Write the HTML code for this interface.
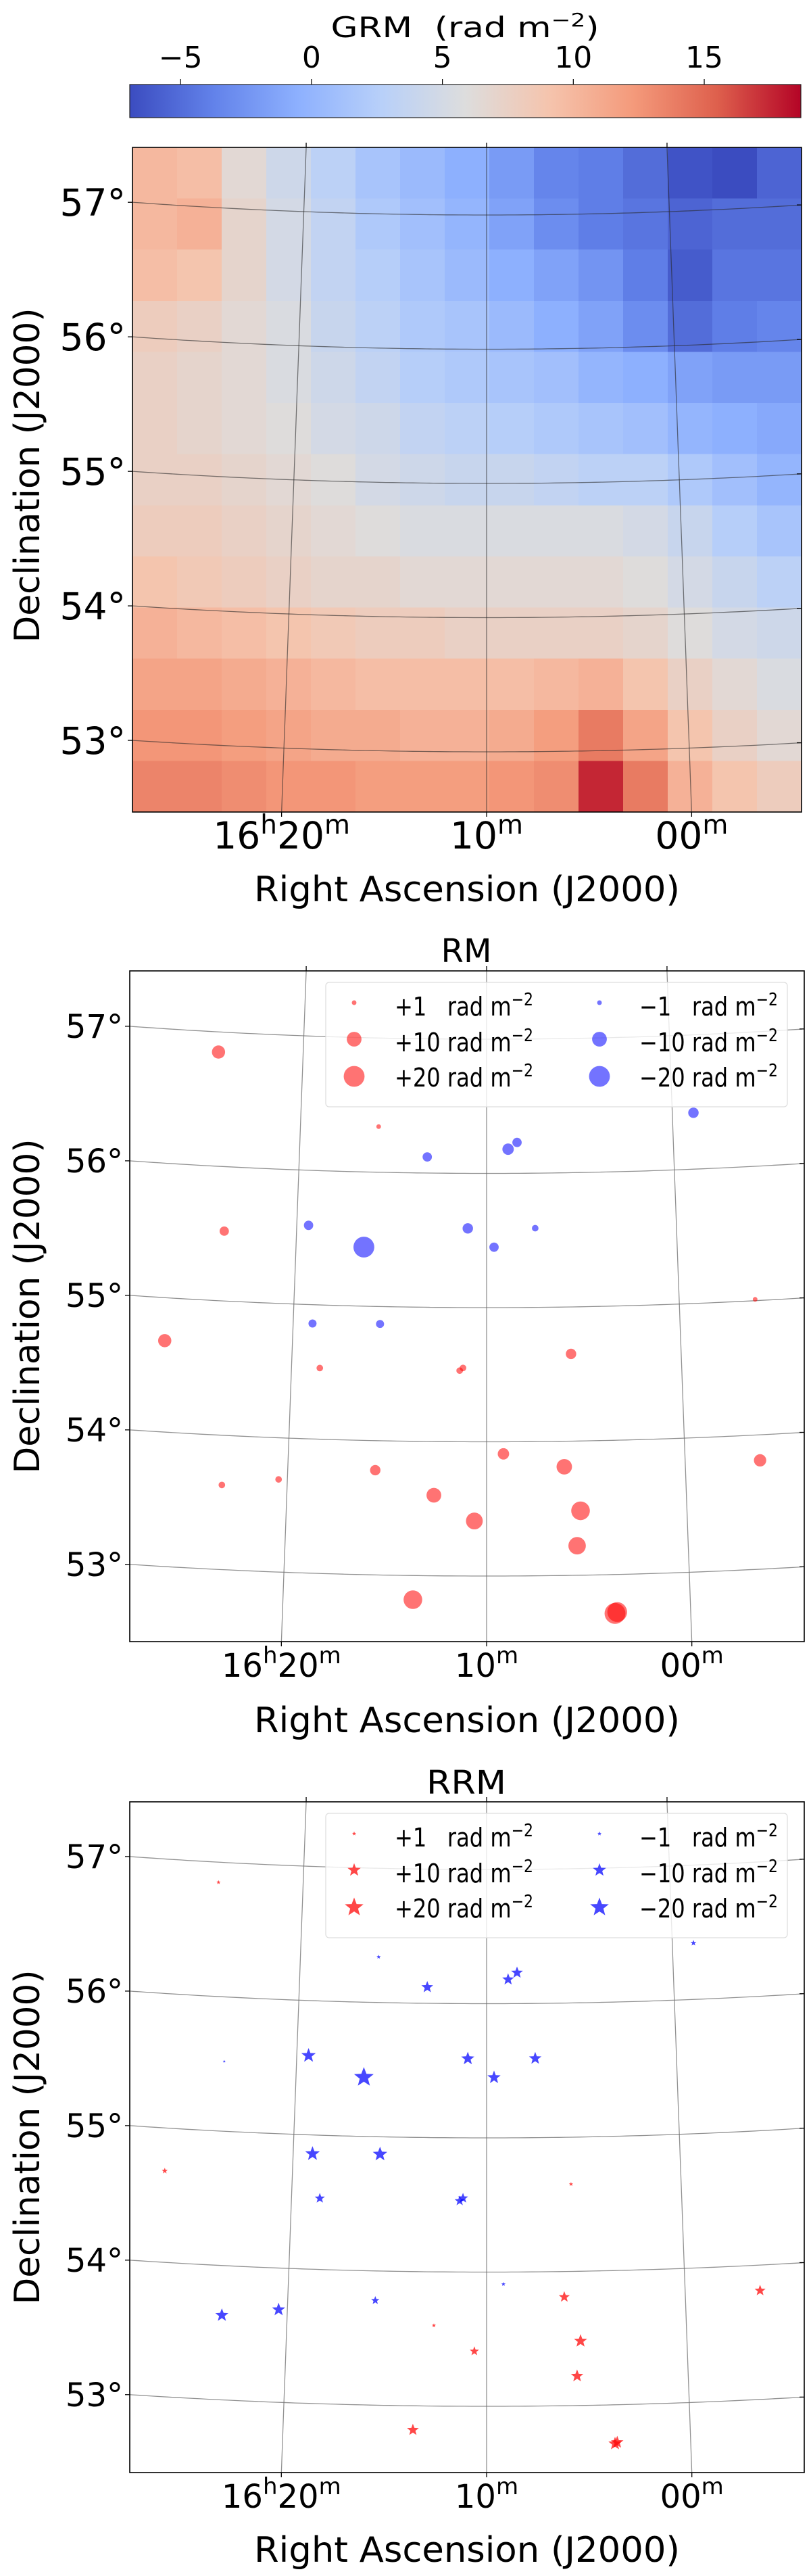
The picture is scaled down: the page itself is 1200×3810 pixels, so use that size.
<!DOCTYPE html>
<html><head><meta charset="utf-8"><title>GRM / RM / RRM maps</title>
<style>html,body{margin:0;padding:0;background:#fff}svg{display:block}text{font-family:"DejaVu Sans","Liberation Sans",sans-serif;fill:#000}</style>
</head><body>
<svg id="fig" xmlns="http://www.w3.org/2000/svg" width="1200" height="3810" viewBox="0 0 1200 3810"></svg>
<script>
// ---------- data ----------
const cbTicks = [-5, 0, 5, 10, 15];
const vmin = -6.94, vmax = 18.69;
// GRM grid (rows top->bottom, cols left->right), rad m^-2
const grmRows = [
[10,9.5,6.5,4.5,3,1.5,0.5,-0.5,-2,-3.5,-4,-5,-6.5,-7,-5.5],
[10,10.5,7,5,3.5,2,1,0,-1.5,-3,-4,-4.5,-5.5,-5,-5],
[9.5,9,7,5,3.5,2.5,1.5,0.5,-0.5,-1.5,-2.5,-4,-6,-4.5,-4.5],
[8,7.5,6.5,5.5,4,3,2,1.5,0.5,-0.5,-1.5,-3,-5,-4,-3.5],
[7.5,7,6.5,5.5,4.5,3.5,2.5,2,1.5,1,0,-0.5,-1.5,-2,-2],
[7.5,7,6.5,6,5,4.5,3.5,3,2.5,2,1.5,1,0,-0.5,-1],
[7.5,7.5,7,6.5,6,5,4.5,4,4,3.5,3,3,2,1,0],
[8,8,7.5,7,6.5,6,5.5,5.5,5.5,5.5,5.5,5,4,2.5,1.5],
[9,8.5,8,7.5,7,7,6.5,6.5,6.5,6.5,6.5,6,5,4,3],
[10.5,10,9.5,9,8.5,8,8,7.5,7.5,7.5,7.5,7,6,5,4.5],
[11.5,11.5,11,10.5,10,9.5,9.5,9.5,9.5,10,10.5,9,7.5,6.5,5.5],
[12.5,12.5,12,11.5,11,11,10.5,10.5,11,12,14,11.5,9,7.5,6.5],
[13.5,13.5,13,12.5,12.5,12,12,12,12.5,13,17.5,14,10.5,9,8]
];
// sources: RA (minutes after 16h00m), Dec (deg)
const srcRA  = [24.61,15.80,-1.14,13.17,8.85,8.37,23.80,19.38,16.44,10.99,9.61,7.44,-3.94,26.57,19.00,15.51,18.55,11.38,11.21,5.66,23.27,20.44,15.60,9.15,6.09,-3.77,12.64,10.61,5.31,5.51,13.62,3.71,3.60];
const srcDec = [56.85,56.34,56.42,56.12,56.18,56.23,55.52,55.59,55.44,55.59,55.45,55.59,55.01,54.68,54.86,54.87,54.53,54.53,54.55,54.65,53.63,53.69,53.78,53.91,53.81,53.81,53.60,53.41,53.48,53.22,52.82,52.71,52.72];
const rmVals  = [8,1,-5,-4,-6,-4,4,-4,-20,-5,-4,-2,1,8,-3,-3,2,2,2,5,2,2,5,6,11,7,10,13,16,14,16,20,18];
const rrmVals = [1,-1,-2,-8,-8,-8,-0.5,-12,-22,-10,-10,-9,0,2,-12,-12,-6,-6,-6,1,-10,-10,-4,-1,7,7,1,5,10,9,8,10,9];
const legendVals = [1,10,20];
const decTicks = [53,54,55,56,57];
const raTicks = [20,10,0];
const raTickTxt = [["16","h","20","m"],["10","m"],["00","m"]];

// ---------- helpers ----------
const NS='http://www.w3.org/2000/svg';
const svg=document.getElementById('fig');
function mk(tag,attrs,parent){const e=document.createElementNS(NS,tag);for(const k in attrs)e.setAttribute(k,attrs[k]);(parent||svg).appendChild(e);return e;}
const R0=8100,S=198.5,K=0.003703,XC=720;
function proj(ram,dec,P){const r=R0+(53-dec)*S,u=(ram-10)*K;return [XC-r*Math.sin(u),P.yc+(r*Math.cos(u)-R0)];}
function decYatX(dec,x,P){const r=R0+(53-dec)*S,dx=XC-x;return P.yc+Math.sqrt(r*r-dx*dx)-R0;}
const stops=[[0,[59,76,192]],[0.125,[98,130,234]],[0.25,[141,176,254]],[0.375,[184,208,249]],[0.5,[221,221,221]],[0.625,[245,196,173]],[0.75,[244,154,123]],[0.875,[222,96,77]],[1,[180,4,38]]];
function cmap(v){let t=(v-vmin)/(vmax-vmin);t=Math.max(0,Math.min(1,t));for(let i=1;i<stops.length;i++){if(t<=stops[i][0]){const a=stops[i-1],b=stops[i],f=(t-a[0])/(b[0]-a[0]);return 'rgb('+a[1].map((c,j)=>Math.round(c+(b[1][j]-c)*f)).join(',')+')';}}return 'rgb(180,4,38)';}
function msize(v){return 6.9*Math.sqrt(Math.abs(v));}
function starPts(cx,cy,R){const p=[];for(let i=0;i<10;i++){const a=-Math.PI/2+i*Math.PI/5,rr=i%2?R*0.42:R;p.push((cx+rr*Math.cos(a)).toFixed(1)+','+(cy+rr*Math.sin(a)).toFixed(1));}return p.join(' ');}

const panels=[
 {id:'grm',x0:196,x1:1186,y0:218,y1:1201,yc:1112,tick:55,raBase:1255,xlBase:1333,ylC:703},
 {id:'rm',x0:192,x1:1190,y0:1436,y1:2428,yc:2331,tick:48,raBase:2480,xlBase:2562,ylC:1932,title:'RM',tBase:1423,tW:75},
 {id:'rrm',x0:192,x1:1190,y0:2665,y1:3657,yc:3559,tick:48,raBase:3709,xlBase:3789,ylC:3161,title:'RRM',tBase:2653,tW:118}
];

// ---------- colorbar ----------
const cb=mk('g',{});


const cbx0=192,cbx1=1185,cby0=125,cby1=174;
const defs=mk('defs',{});
const lg=mk('linearGradient',{id:'cbgrad',x1:'0',x2:'1',y1:'0',y2:'0'},defs);
stops.forEach(s=>mk('stop',{offset:s[0],'stop-color':'rgb('+s[1].join(',')+')'},lg));
mk('rect',{x:cbx0,y:cby0,width:cbx1-cbx0,height:cby1-cby0,fill:'url(#cbgrad)',stroke:'#222','stroke-width':1.2},cb);
function cbX(v){return cbx0+(v-vmin)/(vmax-vmin)*(cbx1-cbx0);}
cbTicks.forEach(v=>{
  mk('line',{x1:cbX(v),x2:cbX(v),y1:cby0-8,y2:cby0,stroke:'#000','stroke-width':1.2},cb);
  const t=mk('text',{x:cbX(v),y:100,'font-size':44,'text-anchor':'middle'},cb);
  
  
  t.textContent=(v<0?'\u2212':'')+Math.abs(v);
});
const cbl=mk('text',{x:688,y:55,'font-size':42,'text-anchor':'middle',textLength:397,lengthAdjust:'spacingAndGlyphs'},cb);


cbl.innerHTML='GRM\u00a0\u00a0(rad m<tspan baseline-shift="super" font-size="28">\u22122</tspan>)';

// ---------- panels ----------
panels.forEach((P,pi)=>{
  const g=mk('g',{});
  
  
  mk('clipPath',{id:'clip'+pi},defs).appendChild(Object.assign(document.createElementNS(NS,'rect'),{}));
  const cr=defs.lastChild.firstChild;cr.setAttribute('x',P.x0);cr.setAttribute('y',P.y0);cr.setAttribute('width',P.x1-P.x0);cr.setAttribute('height',P.y1-P.y0);
  const inner=mk('g',{'clip-path':'url(#clip'+pi+')'},g);
  if(P.id==='grm'){
    const hm=mk('g',{'shape-rendering':'crispEdges'},inner);
    
    
    const nr=grmRows.length,nc=grmRows[0].length,cw=(P.x1-P.x0)/nc,ch=(P.y1-P.y0)/nr;
    grmRows.forEach((row,ri)=>row.forEach((v,ci)=>{
      const c=mk('rect',{x:P.x0+ci*cw,y:P.y0+ri*ch,width:cw+0.6,height:ch+0.6,fill:cmap(v)},hm);
      
      
    }));
  }
  const gridCol=P.id==='grm'?'rgba(40,40,40,0.6)':'rgba(110,110,110,0.75)';
  const grid=mk('g',{fill:'none',stroke:gridCol,'stroke-width':1.3},inner);
  
  
  for(let d=52;d<=58;d++){let pts=[];for(let x=P.x0-5;x<=P.x1+5;x+=10)pts.push(x+','+decYatX(d,x,P).toFixed(1));mk('polyline',{points:pts.join(' ')},grid);}
  for(let ra=-10;ra<=30;ra+=10){let pts=[];for(let d=51.5;d<=58.5;d+=0.25){const p=proj(ra,d,P);pts.push(p[0].toFixed(1)+','+p[1].toFixed(1));}mk('polyline',{points:pts.join(' ')},grid);}
  // markers
  if(P.id!=='grm'){
    const vals=P.id==='rm'?rmVals:rrmVals;
    const mg=mk('g',{},inner);
    
    
    srcRA.forEach((ra,i)=>{
      const v=vals[i];if(v===0)return;
      const p=proj(ra,srcDec[i],P),d=msize(v),col=v>0?'#ff0000':'#0000ff';
      let m;
      if(P.id==='rm') m=mk('circle',{cx:p[0],cy:p[1],r:d/2,fill:col,'fill-opacity':0.55},mg);
      else m=mk('polygon',{points:starPts(p[0],p[1],d*0.47),fill:col,'fill-opacity':0.72},mg);
      
      
    });
    // legend
    const L=mk('g',{},g);
    
    
    const ly=P.y0+17;
    mk('rect',{x:482,y:ly,width:683,height:184,rx:5,fill:'rgba(255,255,255,0.8)',stroke:'#ddd','stroke-width':1.2},L);
    const rowY=[30,84,139],baseY=[49,102,154];
    legendVals.forEach((lv,k)=>{
      [[lv,524,584],[-lv,887,946]].forEach(([v,mx,tx])=>{
        const d=msize(v),col=v>0?'#ff0000':'#0000ff';let m;
        if(P.id==='rm') m=mk('circle',{cx:mx,cy:ly+rowY[k],r:d/2,fill:col,'fill-opacity':0.55},L);
        else m=mk('polygon',{points:starPts(mx,ly+rowY[k],d*0.47),fill:col,'fill-opacity':0.72},L);
        
        
        const t=mk('text',{x:tx,y:ly+baseY[k],'font-size':38,textLength:205,lengthAdjust:'spacingAndGlyphs'},L);
        
        
        const s=(v>0?'+':'\u2212')+Math.abs(v);
        t.innerHTML=(Math.abs(v)<10?s+'\u00a0\u00a0\u00a0':s+' ')+'rad m<tspan baseline-shift="super" font-size="26">\u22122</tspan>';
      });
    });
    const tt=mk('text',{x:690,y:P.tBase,'font-size':48,'text-anchor':'middle',textLength:P.tW,lengthAdjust:'spacingAndGlyphs'},g);
    
    
    tt.textContent=P.title;
  }
  // frame & ticks
  const fr=mk('rect',{x:P.x0,y:P.y0,width:P.x1-P.x0,height:P.y1-P.y0,fill:'none',stroke:'#000','stroke-width':1.6},g);
  
  
  decTicks.forEach(d=>{
    const yl=decYatX(d,P.x0,P),yr=decYatX(d,P.x1,P);
    mk('line',{x1:P.x0-7,x2:P.x0,y1:yl,y2:yl,stroke:'#000','stroke-width':1.3},g);
    mk('line',{x1:P.x1-7,x2:P.x1,y1:yr,y2:yr,stroke:'#000','stroke-width':1.3},g);
    const t=mk('text',{x:P.x0-10,y:yl+P.tick*0.36,'font-size':P.tick,'text-anchor':'end'},g);
    
    
    t.textContent=d+'\u00b0';
  });
  raTicks.forEach((ra,k)=>{
    // bottom crossing
    let d=53-(P.y1-P.yc)/S,p;for(let it=0;it<5;it++){p=proj(ra,d,P);d+= (p[1]-P.y1)/S;}p=proj(ra,d,P);
    let dt=53-(P.y0-P.yc)/S,q;for(let it=0;it<5;it++){q=proj(ra,dt,P);dt+=(q[1]-P.y0)/S;}q=proj(ra,dt,P);
    mk('line',{x1:p[0],x2:p[0],y1:P.y1,y2:P.y1+7,stroke:'#000','stroke-width':1.3},g);
    mk('line',{x1:q[0],x2:q[0],y1:P.y0-7,y2:P.y0,stroke:'#000','stroke-width':1.3},g);
    const t=mk('text',{x:p[0],y:P.raBase,'font-size':P.tick,'text-anchor':'middle'},g);
    
    
    const parts=raTickTxt[k];let h='';
    for(let i=0;i<parts.length;i++){h+=(i%2)?'<tspan baseline-shift="super" font-size="'+Math.round(P.tick*0.7)+'">'+parts[i]+'</tspan>':parts[i];}
    t.innerHTML=h;
  });
  const xl=mk('text',{x:691,y:P.xlBase,'font-size':52,'text-anchor':'middle',textLength:630,lengthAdjust:'spacingAndGlyphs'},g);
  
  
  xl.textContent='Right Ascension (J2000)';
  const yl=mk('text',{x:0,y:0,'font-size':52,'text-anchor':'middle',textLength:495,lengthAdjust:'spacingAndGlyphs',transform:'translate(58,'+P.ylC+') rotate(-90)'},g);
  
  
  yl.textContent='Declination (J2000)';
});
</script>
</body></html>
